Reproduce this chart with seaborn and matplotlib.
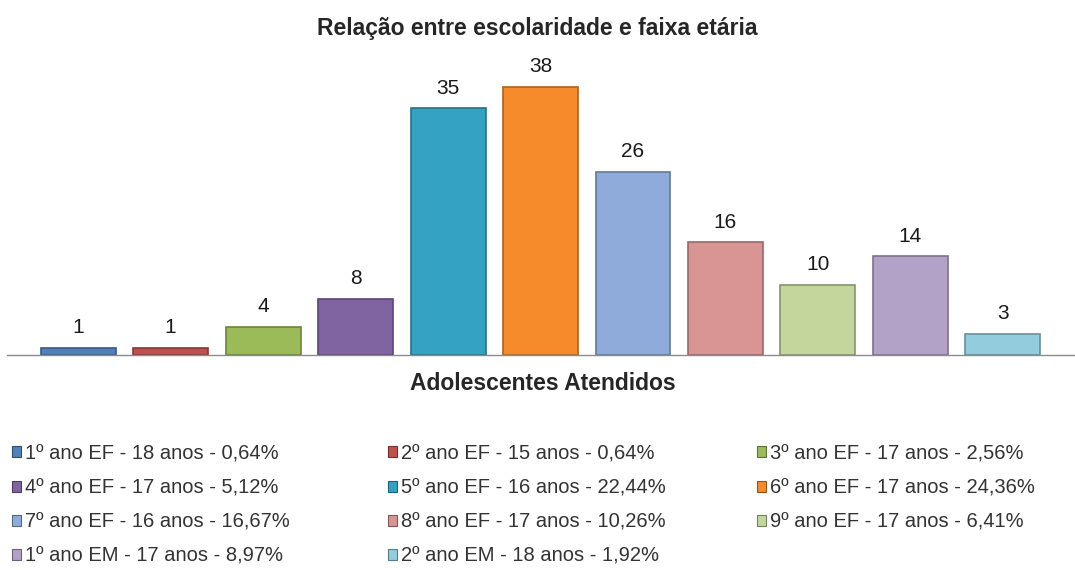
import matplotlib
matplotlib.use('Agg')
from matplotlib import pyplot as plt
from matplotlib.patches import Patch
import matplotlib.colors as mcolors
import seaborn as sns

# dados do grafico
series = ['1º ano EF', '2º ano EF', '3º ano EF', '4º ano EF', '5º ano EF', '6º ano EF',
          '7º ano EF', '8º ano EF', '9º ano EF', '1º ano EM', '2º ano EM']
idades = ['18', '15', '17', '17', '16', '17', '16', '17', '17', '17', '18']
percentuais = ['0,64', '0,64', '2,56', '5,12', '22,44', '24,36', '16,67', '10,26', '6,41', '8,97', '1,92']
atendidos = [1, 1, 4, 8, 35, 38, 26, 16, 10, 14, 3]

cores = ['#4F81BD', '#C0504D', '#9BBB59', '#8064A2', '#34A3C3', '#F68B2C',
         '#8EABDA', '#D99593', '#C3D69B', '#B3A2C7', '#93CDDD']

legendas = [f'{s} - {i} anos - {p}%' for s, i, p in zip(series, idades, percentuais)]

sns.set_style('white')
plt.rcParams['font.family'] = ['Liberation Sans', 'DejaVu Sans']

fig = plt.figure(figsize=(10.75, 5.7), dpi=100)
ax = fig.add_axes([0.0065, 0.377, 0.9935, 0.5175])

ax = sns.barplot(x=series, y=atendidos, hue=series, palette=cores, width=0.81,
                 saturation=1, legend=False, ax=ax)

def escurecer(c, f=0.7):
    r, g, b = mcolors.to_rgb(c)
    return (r * f, g * f, b * f)

for barra, cor in zip(ax.patches, cores):
    barra.set_edgecolor(escurecer(cor))
    barra.set_linewidth(1.2)

for barra, v in zip(ax.patches, atendidos):
    ax.text(barra.get_x() + barra.get_width() / 2, v + 1.5, str(v),
            ha='center', va='bottom', fontsize=15, color='#1a1a1a')

ax.set_xlim(-0.77, 10.78)
ax.set_ylim(0, 41.8)
ax.set_xticks([])
ax.set_yticks([])
ax.set_xlabel('')
for lado in ['top', 'right', 'left']:
    ax.spines[lado].set_visible(False)
ax.spines['bottom'].set_color('#8C8C8C')
ax.spines['bottom'].set_linewidth(1)

fig.text(0.5, 1 - 28 / 570, 'Relação entre escolaridade e faixa etária',
         ha='center', va='center', fontsize=16.5, fontweight='bold')
fig.text(543 / 1075, 1 - 383 / 570, 'Adolescentes Atendidos',
         ha='center', va='center', fontsize=16.5, fontweight='bold')

handles = [Patch(facecolor=c, edgecolor=escurecer(c, 0.6), linewidth=0.8) for c in cores]
colunas = [[0, 3, 6, 9], [1, 4, 7, 10], [2, 5, 8]]
xs = [12, 388, 757]
for col, x0 in zip(colunas, xs):
    leg = fig.legend([handles[k] for k in col], [legendas[k] for k in col],
                     loc='upper left', bbox_to_anchor=(x0 / 1075, 1 - 444 / 570),
                     frameon=False, fontsize=14.5, handlelength=0.45, handleheight=0.45,
                     handletextpad=0.2, labelspacing=0.76, borderpad=0, borderaxespad=0)
    for t in leg.get_texts():
        t.set_color('#333333')

plt.savefig('out.png', dpi=100)
